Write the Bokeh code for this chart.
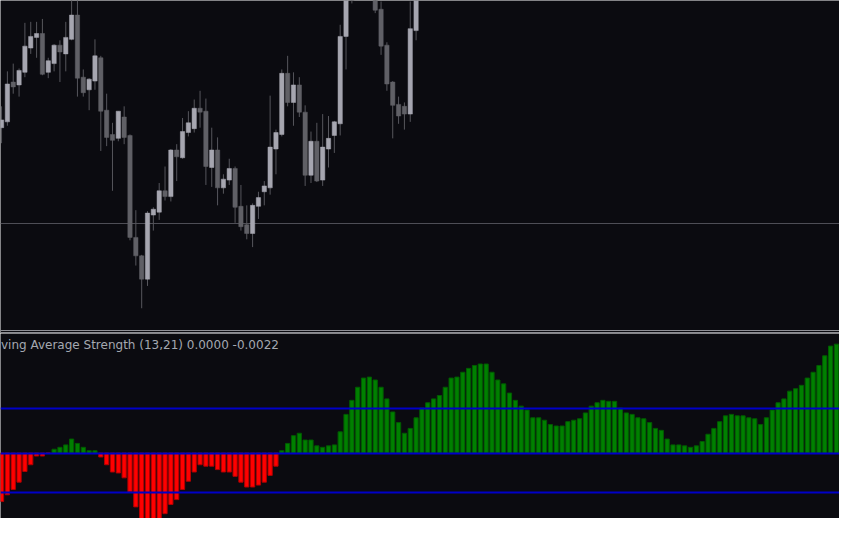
from bokeh.plotting import figure
from bokeh.layouts import column
from bokeh.models import Range1d, Label, ColumnDataSource
from bokeh.embed import file_html
from bokeh.resources import INLINE

# ---------------- data ----------------
# candle indices (bars 61-63 lie above the visible window)
candle_idx = list(range(0, 61)) + list(range(64, 72))
# prices as 1.0000 + points/10000
open_pts = [3099, 3105, 3146, 3143, 3156, 3181, 3192, 3196, 3156, 3165,
            3184, 3175, 3190, 3215, 3151, 3138, 3147, 3171, 3117, 3092,
            3088, 3110, 3091, 2986, 2967, 2943, 3009, 3012, 3034, 3028,
            3076, 3068, 3094, 3098, 3119, 3116, 3058, 3076, 3037, 3045,
            3057, 3018, 2999, 2990, 3018, 3033, 3037, 3077, 3092, 3155,
            3125, 3143, 3115, 3050, 3085, 3045, 3077, 3091, 3103, 3193,
            3280,
            3245, 3221, 3184, 3146, 3123, 3121, 3113, 3199]
close_pts = [3107, 3144, 3141, 3158, 3183, 3193, 3196, 3154, 3168, 3184,
             3177, 3192, 3215, 3150, 3135, 3149, 3173, 3116, 3089, 3086,
             3116, 3089, 2986, 2967, 2943, 3011, 3015, 3034, 3028, 3076,
             3069, 3095, 3104, 3119, 3115, 3059, 3076, 3037, 3046, 3057,
             3017, 2997, 2990, 3019, 3027, 3039, 3079, 3094, 3155, 3125,
             3143, 3115, 3050, 3085, 3044, 3079, 3088, 3105, 3193, 3255,
             3270,
             3220, 3183, 3144, 3122, 3111, 3113, 3201, 3260]
high_pts = [3121, 3157, 3165, 3160, 3207, 3208, 3208, 3211, 3171, 3185,
            3189, 3208, 3236, 3238, 3159, 3150, 3190, 3173, 3134, 3104,
            3116, 3121, 3092, 3014, 2968, 3013, 3017, 3042, 3059, 3077,
            3082, 3109, 3116, 3128, 3137, 3129, 3099, 3089, 3051, 3067,
            3059, 3040, 3019, 3021, 3033, 3044, 3132, 3097, 3159, 3173,
            3156, 3151, 3122, 3095, 3104, 3113, 3111, 3106, 3205, 3265,
            3290,
            3250, 3229, 3187, 3147, 3131, 3125, 3229, 3270]
low_pts = [3083, 3101, 3134, 3131, 3151, 3175, 3171, 3153, 3150, 3157,
           3146, 3157, 3189, 3131, 3131, 3117, 3138, 3075, 3080, 3034,
           3085, 3082, 2983, 2957, 2913, 2936, 2993, 3004, 3024, 3023,
           3044, 3067, 3090, 3094, 3099, 3040, 3038, 3019, 3031, 3040,
           3001, 2993, 2984, 2976, 3005, 3019, 3030, 3051, 3090, 3121,
           3101, 3110, 3039, 3042, 3043, 3039, 3058, 3073, 3091, 3159,
           3227,
           3217, 3174, 3137, 3088, 3103, 3097, 3105, 3189]
price_level = 1.3000

# Moving Average Strength histogram, in units of 0.00001
mas_points = [-100, -86, -75, -60, -38, -24, -6, -6, 0, 8,
              12, 17, 29, 20, 12, 5, 5, -8, -24, -39,
              -41, -51, -80, -111, -138, -150, -152, -142, -125, -106,
              -96, -75, -58, -39, -24, -27, -27, -34, -39, -39,
              -48, -60, -70, -70, -66, -60, -46, -27, 5, 20,
              36, 41, 27, 27, 15, 12, 15, 17, 44, 80,
              109, 136, 155, 157, 151, 136, 112, 85, 63, 41,
              51, 73, 93, 104, 112, 119, 136, 155, 157, 167,
              175, 181, 184, 184, 167, 151, 143, 124, 109, 97,
              89, 73, 73, 68, 59, 56, 56, 65, 68, 71,
              83, 97, 104, 109, 107, 107, 93, 83, 80, 73,
              71, 63, 51, 47, 29, 17, 17, 15, 12, 15,
              24, 39, 51, 65, 77, 80, 77, 77, 73, 71,
              59, 73, 89, 104, 112, 128, 133, 140, 155, 167,
              181, 201, 221, 225]
level_upper = 0.00093
level_lower = -0.00082
title_text = "ving Average Strength (13,21) 0.0000 -0.0022"

# ---------------- styling ----------------
BG = "#0b0b10"
BULL = "#a6a6b0"
BEAR = "#606066"
WICK = "#56565c"
W = 839

xr = Range1d(-0.18, 143.52)


def mkfig(h, yr):
    p = figure(width=W, height=h, x_range=xr, y_range=yr,
               output_backend="svg", toolbar_location=None,
               x_axis_location=None, y_axis_location=None,
               min_border=0, background_fill_color=BG,
               border_fill_color=BG, outline_line_color=None)
    p.grid.visible = False
    return p


# ---------------- price pane ----------------
o = [1 + v / 10000 for v in open_pts]
c = [1 + v / 10000 for v in close_pts]
hi = [1 + v / 10000 for v in high_pts]
lo = [1 + v / 10000 for v in low_pts]
src = ColumnDataSource(dict(
    x=candle_idx, high=hi, low=lo,
    top=[max(a, b) for a, b in zip(o, c)],
    bottom=[min(a, b) for a, b in zip(o, c)],
    color=[BULL if b >= a else BEAR for a, b in zip(o, c)],
))

top = mkfig(333, Range1d(1.2887, 1.3230))
top.hspan(y=[price_level], line_color="#4e4e56", line_width=1)
top.segment(x0="x", y0="low", x1="x", y1="high", source=src,
            line_color=WICK, line_width=1)
top.vbar(x="x", width=0.74, top="top", bottom="bottom", source=src,
         fill_color="color", line_color="color", line_width=0.5)
# pane separator (double rule at the bottom of the price window)
top.hspan(y=[1.28905, 1.28876], line_color="#8e8e94", line_width=1)

# ---------------- indicator pane ----------------
mas = [v / 100000 for v in mas_points]
hx = list(range(len(mas)))
hsrc = ColumnDataSource(dict(
    x=hx, top=mas,
    fill=["#008000" if v > 0 else "#ff0000" for v in mas],
    line=["#005c00" if v > 0 else "#b00000" for v in mas],
))
bot = mkfig(185, Range1d(-0.00135, 0.00247))
bot.vbar(x="x", width=0.72, top="top", bottom=0, source=hsrc,
         fill_color="fill", line_color="line", line_width=1)
bot.hspan(y=[level_upper, 0, level_lower], line_color="#0000c8", line_width=2)
bot.add_layout(Label(x=-0.1, y=0.00237, text=title_text,
                     text_font="DejaVu Sans", text_font_size="12px",
                     text_color="#a4a8b0", text_baseline="top"))

layout = column(top, bot, spacing=0)
open("out.html", "w").write(file_html(layout, INLINE))
